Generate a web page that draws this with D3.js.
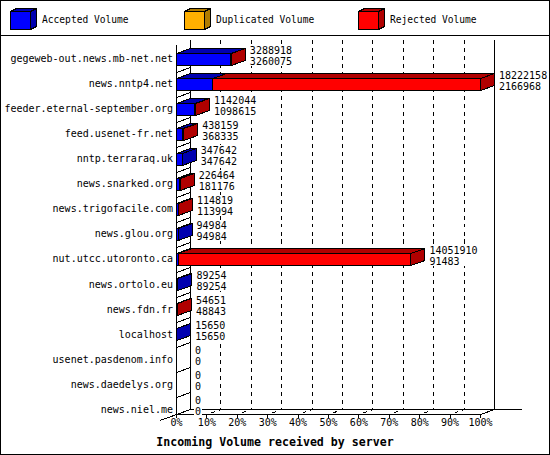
<!DOCTYPE html>
<html>
<head>
<meta charset="utf-8">
<script src="https://d3js.org/d3.v7.min.js"></script>
<style>
  body { margin: 0; background: #fff; }
  svg text { font-family: "DejaVu Sans Mono", monospace; fill: #000; }
</style>
</head>
<body>
<script>
// Data
const servers = [
  "gegeweb-out.news.mb-net.net",
  "news.nntp4.net",
  "feeder.eternal-september.org",
  "feed.usenet-fr.net",
  "nntp.terraraq.uk",
  "news.snarked.org",
  "news.trigofacile.com",
  "news.glou.org",
  "nut.utcc.utoronto.ca",
  "news.ortolo.eu",
  "news.fdn.fr",
  "localhost",
  "usenet.pasdenom.info",
  "news.daedelys.org",
  "news.niel.me",
];
const totalVolume = [3288918, 18222158, 1142044, 438159, 347642, 226464, 114819, 94984, 14051910, 89254, 54651, 15650, 0, 0, 0];
const acceptedVolume = [3260075, 2166968, 1098615, 368335, 347642, 181176, 113994, 94984, 91483, 89254, 48843, 15650, 0, 0, 0];
const duplicatedVolume = [0, 0, 0, 0, 0, 0, 0, 0, 0, 0, 0, 0, 0, 0, 0];
const rejectedVolume = [28843, 16055190, 43429, 69824, 0, 45288, 825, 0, 13960427, 0, 5808, 0, 0, 0, 0];
const percentTicks = [0, 10, 20, 30, 40, 50, 60, 70, 80, 90, 100];
const legendLabels = ["Accepted Volume", "Duplicated Volume", "Rejected Volume"];

const width = 550;
const height = 455;
const depthX = 14;
const depthY = -5;
const colors = [
  ["#0000ff", "#0000b0"],
  ["#ffb000", "#b07c00"],
  ["#ff0000", "#b00000"],
];

const svg = d3.select("body").append("svg")
  .attr("width", width)
  .attr("height", height)
  .attr("shape-rendering", "crispEdges");

// frame and legend separator
svg.append("rect")
  .attr("x", 0.5).attr("y", 0.5)
  .attr("width", width - 1).attr("height", height - 1)
  .attr("fill", "#fff").attr("stroke", "#000");
svg.append("line")
  .attr("x1", 0).attr("x2", width)
  .attr("y1", 35.5).attr("y2", 35.5)
  .attr("stroke", "#000");

// draws a 3d box: top, side, then front face
function box(g, x, y, w, h, dx, dy, c) {
  g.append("polygon")
    .attr("points", [[x, y], [x + dx, y + dy], [x + w + dx, y + dy], [x + w, y]].join(" "))
    .attr("fill", c[1]).attr("stroke", "#000");
  g.append("polygon")
    .attr("points", [[x + w, y], [x + w + dx, y + dy], [x + w + dx, y + h + dy], [x + w, y + h]].join(" "))
    .attr("fill", c[1]).attr("stroke", "#000");
  g.append("rect")
    .attr("x", x).attr("y", y).attr("width", w).attr("height", h)
    .attr("fill", c[0]).attr("stroke", "#000");
}

// legend
legendLabels.forEach(function (label, i) {
  const g = svg.append("g").attr("transform", `translate(${10 + 174 * i},0)`);
  box(g, 0.5, 11.5, 20, 18, 6, -3, colors[i]);
  g.append("text")
    .attr("x", 32).attr("y", 20)
    .attr("dy", "0.35em")
    .attr("font-size", "9.6px")
    .text(label);
});

// scales
const x = d3.scaleLinear().domain([0, d3.max(totalVolume)]).range([176, 480]);
const pct = d3.scaleLinear().domain([0, 100]).range([176, 480]);
const y = d3.scaleBand().domain(servers).range([46.5, 422]);

const backTop = 39.5;
const backFloor = 409.5;
const frontFloor = 414.5;

// dashed grid lines on the back wall and floor
svg.append("g")
  .selectAll("path")
  .data(percentTicks.slice(1, -1))
  .enter()
  .append("path")
  .attr("d", function (p) {
    const xf = pct(p) + 0.5;
    return `M${xf + depthX},${backTop}V${backFloor}L${xf},${frontFloor}`;
  })
  .attr("fill", "none")
  .attr("stroke", "#000")
  .attr("stroke-dasharray", "4,4");

// walls
const walls = svg.append("g").attr("stroke", "#000").attr("fill", "none");
const x0 = pct(0) + 0.5;
const x100 = pct(100) + 0.5;
walls.append("path").attr("d", `M${x0 + depthX},${backTop}V${backFloor}`);
walls.append("path").attr("d", `M${x100 + depthX},${backTop}V${backFloor}L${x100},${frontFloor}`);
walls.append("path").attr("d", `M${x0},${backTop + 5}V${frontFloor}`);
walls.append("path").attr("d", `M${x0 + depthX},${backFloor}H522`);
walls.append("path").attr("d", `M${x0 + depthX},${backFloor}L160,420.5`);

// row ticks across the left wall
walls.selectAll(".rowtick")
  .data(servers.slice(1))
  .enter()
  .append("path")
  .attr("class", "rowtick")
  .attr("d", function (s) {
    const yb = Math.round(y(s)) + 0.5;
    return `M${x0},${yb}L${x0 + depthX},${yb + depthY}`;
  });

// bottom axis (front floor edge)
const xAxis = svg.append("g")
  .attr("transform", `translate(0,${frontFloor - 0.5})`)
  .call(d3.axisBottom(pct)
    .tickValues(percentTicks)
    .tickFormat(function (d) { return d + "%"; })
    .tickSize(4)
    .tickSizeOuter(0)
    .tickPadding(1));
xAxis.attr("font-family", null).attr("font-size", null);
xAxis.selectAll("text").attr("font-size", "10px");

// server labels
const yAxis = svg.append("g")
  .attr("transform", "translate(173,0)")
  .call(d3.axisLeft(y).tickSize(0).tickPadding(0));
yAxis.select(".domain").remove();
yAxis.attr("font-family", null).attr("font-size", null);
yAxis.selectAll("text").attr("font-size", "10px");

// stacked 3d bars
const series = [acceptedVolume, duplicatedVolume, rejectedVolume];
servers.forEach(function (s, i) {
  const g = svg.append("g");
  const top = Math.round(y(s) + y.bandwidth() / 2) - 6 + 0.5;
  let cum = 0;
  series.forEach(function (values, k) {
    const v = values[i];
    if (v > 0) {
      const xa = x(cum) + 0.5;
      const xb = x(cum + v) + 0.5;
      box(g, xa, top, xb - xa, 12, depthX, depthY, colors[k]);
    }
    cum += v;
  });
});

// value labels, on a white patch that hides the grid
servers.forEach(function (s, i) {
  const cy = y(s) + y.bandwidth() / 2;
  const lx = x(totalVolume[i]) + depthX + 5;
  const g = svg.append("g").attr("font-size", "10px");
  const bg = g.append("rect").attr("fill", "#fff");
  const t1 = g.append("text")
    .attr("x", lx).attr("y", cy - 9).attr("dy", "0.35em")
    .text(totalVolume[i]);
  const t2 = g.append("text")
    .attr("x", lx).attr("y", cy + 2).attr("dy", "0.35em")
    .text(acceptedVolume[i]);
  const w = Math.max(t1.node().getComputedTextLength(), t2.node().getComputedTextLength());
  bg.attr("x", lx - 1).attr("y", cy - 14).attr("width", w + 2).attr("height", 21);
});

// title
svg.append("text")
  .attr("x", width / 2).attr("y", 442)
  .attr("dy", "0.35em")
  .attr("text-anchor", "middle")
  .attr("font-size", "11.6px")
  .attr("font-weight", "bold")
  .text("Incoming Volume received by server");
</script>
</body>
</html>
